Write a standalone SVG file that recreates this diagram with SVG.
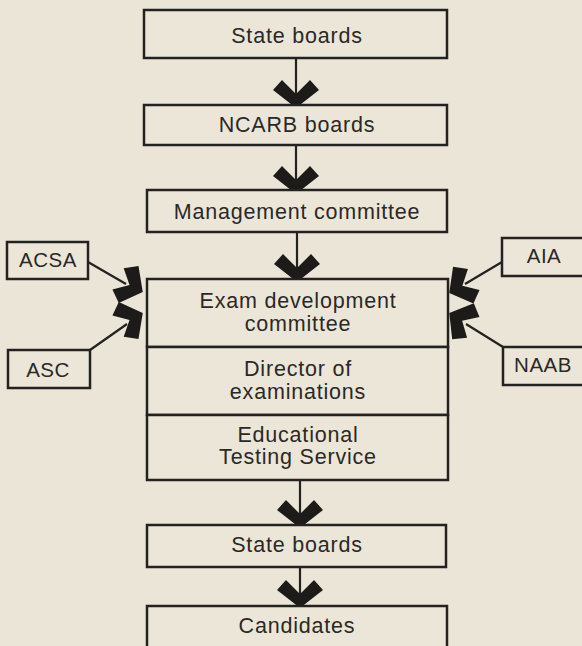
<svg xmlns="http://www.w3.org/2000/svg" width="582" height="646" viewBox="0 0 582 646">
<style>
.box{fill:#ece6d8;stroke:#232220;stroke-width:2.5}
.lbl{font-family:"Liberation Sans",Arial,sans-serif;font-size:21.5px;letter-spacing:0.8px;fill:#2a2927;text-anchor:middle}
.sm{font-size:20.5px;letter-spacing:0.5px}
.ln{stroke:#232220;stroke-width:2.2;fill:none}
.hd{fill:#1c1b1a}
</style>
<defs>
<path id="chev" d="M0,2 L-23,-16 L-14,-26 L0,-12 L14,-26 L23,-16 Z"/>
<path id="side" d="M0,2 L-21,-14 L-12,-26 L0,-13 L12,-26 L21,-14 Z"/>
</defs>
<rect x="0" y="0" width="582" height="646" fill="#ebe5d7"/>
<g id="connectors">
<line class="ln" x1="296" y1="58" x2="296" y2="100"/>
<use href="#chev" class="hd" transform="translate(296,106)"/>
<line class="ln" x1="296" y1="145" x2="296" y2="185"/>
<use href="#chev" class="hd" transform="translate(296,192)"/>
<line class="ln" x1="297" y1="232" x2="297" y2="272"/>
<use href="#chev" class="hd" transform="translate(297,280)"/>
<line class="ln" x1="300" y1="480" x2="300" y2="518"/>
<use href="#chev" class="hd" transform="translate(300,526)"/>
<line class="ln" x1="300" y1="567" x2="300" y2="600"/>
<use href="#chev" class="hd" transform="translate(300,606)"/>
<line class="ln" x1="88" y1="262" x2="126" y2="284"/>
<use href="#side" class="hd" transform="translate(141,291) rotate(-62)"/>
<line class="ln" x1="90" y1="350" x2="127" y2="324"/>
<use href="#side" class="hd" transform="translate(141,314) rotate(-118)"/>
<line class="ln" x1="502" y1="262" x2="465" y2="284"/>
<use href="#side" class="hd" transform="translate(451,292) rotate(61)"/>
<line class="ln" x1="503" y1="347" x2="466" y2="324"/>
<use href="#side" class="hd" transform="translate(451,314) rotate(121)"/>
</g>
<g id="state-boards-1"><rect class="box" x="144" y="10" width="303" height="48"/><text class="lbl" x="297" y="43">State boards</text></g>
<g id="ncarb"><rect class="box" x="144" y="105" width="303" height="40"/><text class="lbl" x="297" y="132">NCARB boards</text></g>
<g id="management"><rect class="box" x="147" y="190" width="300" height="42"/><text class="lbl" x="297" y="219">Management committee</text></g>
<g id="exam-dev"><rect class="box" x="147" y="279" width="301" height="68"/><text class="lbl" x="298" y="308">Exam development</text><text class="lbl" x="298" y="331">committee</text></g>
<g id="director"><rect class="box" x="147" y="347" width="301" height="68"/><text class="lbl" x="298" y="376">Director of</text><text class="lbl" x="298" y="399">examinations</text></g>
<g id="ets"><rect class="box" x="147" y="415" width="301" height="65"/><text class="lbl" x="298" y="442">Educational</text><text class="lbl" x="298" y="464">Testing Service</text></g>
<g id="state-boards-2"><rect class="box" x="147" y="525" width="299" height="42"/><text class="lbl" x="297" y="552">State boards</text></g>
<g id="candidates"><rect class="box" x="147" y="606" width="300" height="50"/><text class="lbl" x="297" y="633">Candidates</text></g>
<g id="acsa"><rect class="box" x="7" y="242" width="81" height="37"/><text class="lbl sm" x="48" y="267">ACSA</text></g>
<g id="asc"><rect class="box" x="8" y="350" width="82" height="38"/><text class="lbl sm" x="48" y="377">ASC</text></g>
<g id="aia"><rect class="box" x="502" y="238" width="84" height="38"/><text class="lbl sm" x="544" y="263">AIA</text></g>
<g id="naab"><rect class="box" x="503" y="347" width="84" height="38"/><text class="lbl sm" x="543" y="372">NAAB</text></g>
</svg>
